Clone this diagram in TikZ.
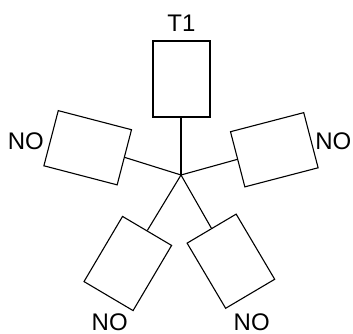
\documentclass[tikz,border=0pt]{standalone}
\usepackage{fontspec}
\setmainfont{Liberation Sans}
\begin{document}
\begin{tikzpicture}[x=1pt,y=-1pt,
  box/.style={draw,line width=1.1pt,minimum width=57pt,minimum height=75.7pt,inner sep=0pt},
  rootbox/.style={box,line width=2pt},
  lbl/.style={font=\fontsize{24}{26}\selectfont,inner sep=0pt,anchor=base},
  conn/.style={line width=1.1pt},
  rootconn/.style={line width=2pt}]
\useasboundingbox (0,0) rectangle (353,334);
\coordinate (hub) at (181,175);
\node[rootbox] (top) at (181,78.85) {};
\node[box,rotate=75.4] (left) at (87.7,147.75) {};
\node[box,rotate=-75.4] (right) at (274.3,149.75) {};
\node[box,rotate=149.4] (bl) at (127.8,263.5) {};
\node[box,rotate=-149.4] (br) at (230.9,261.2) {};
\draw[rootconn] (top.south) -- (hub);
\draw[conn] (left.south) -- (hub);
\draw[conn] (right.south) -- (hub);
\draw[conn] (bl.south) -- (hub);
\draw[conn] (br.south) -- (hub);
\node[lbl] (t1) at (181.5,31.7) {T1};
\node[lbl] (nol) at (25.8,149) {NO};
\node[lbl] (nor) at (333.3,149) {NO};
\node[lbl] (nobl) at (109.7,330) {NO};
\node[lbl] (nobr) at (251.7,330) {NO};
\end{tikzpicture}
\end{document}
